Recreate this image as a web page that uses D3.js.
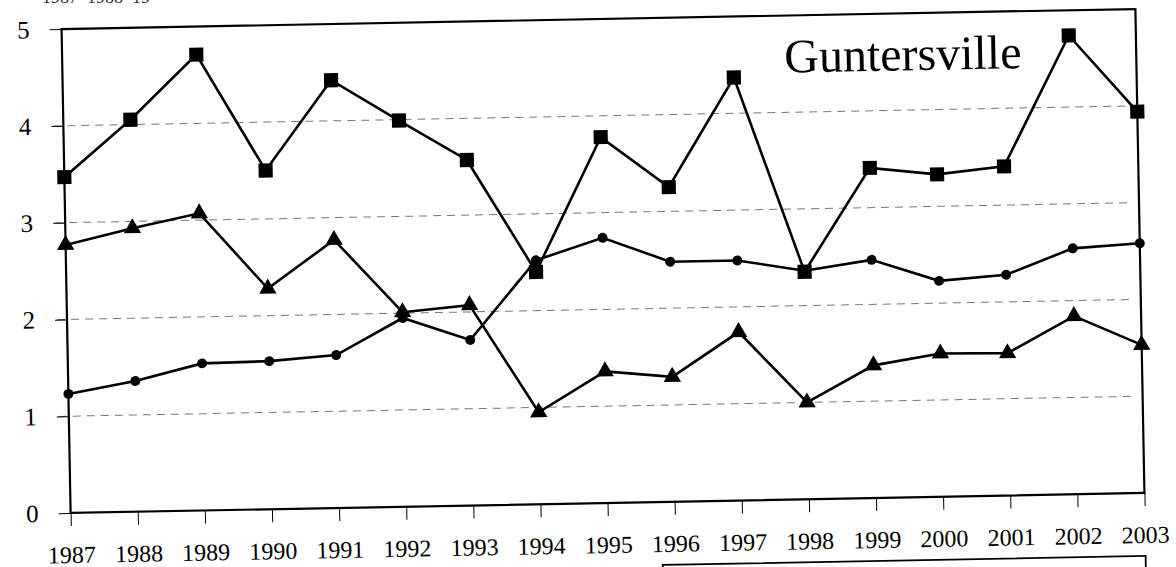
<!DOCTYPE html>
<html><head><meta charset="utf-8">
<script src="https://cdn.jsdelivr.net/npm/d3@7"></script>
<style>body{margin:0;background:#fff;} svg{display:block}</style>
</head><body>
<svg id="chart" width="1176" height="567"></svg>
<script>
const years = [1987,1988,1989,1990,1991,1992,1993,1994,1995,1996,1997,1998,1999,2000,2001,2002,2003];
const squareSeries   = [3.47,4.05,4.71,3.50,4.42,3.99,3.57,2.40,3.78,3.25,4.37,2.35,3.41,3.33,3.40,4.74,3.94];
const circleSeries   = [1.23,1.35,1.52,1.53,1.58,1.95,1.71,2.52,2.74,2.48,2.48,2.36,2.46,2.23,2.28,2.54,2.58];
const triangleSeries = [2.77,2.93,3.07,2.28,2.77,2.01,2.07,0.95,1.36,1.29,1.74,1.00,1.37,1.48,1.47,1.84,1.53];
const yTicks = [0,1,2,3,4,5];
const gridTicks = [1,2,3,4];
const chartTitle = "Guntersville";
const strayTopText = "1987  1988  19";

const W = 1176, H = 567;
const pLeft = 66, pRight = 1140, pTop = 19, pBottom = 503;
const font = "'Liberation Serif','Times New Roman',serif";

const svg = d3.select("#chart");
svg.append("rect").attr("width", W).attr("height", H).attr("fill", "#fff");

// stray fragment of the previous figure's labels at the very top
svg.append("text").attr("x", 42).attr("y", 3).text(strayTopText)
  .attr("font-family", font).attr("font-size", 18).attr("fill", "#333")
  .style("white-space", "pre");

const g = svg.append("g").attr("transform", "rotate(-1.07,603,261)");

const x = d3.scalePoint().domain(years).range([pLeft, pRight]);
const y = d3.scaleLinear().domain([0, 5]).range([pBottom, pTop]);

// gridlines
g.append("g").selectAll("line").data(gridTicks).join("line")
  .attr("x1", pLeft - 10).attr("x2", pRight - 6)
  .attr("y1", d => y(d)).attr("y2", d => y(d))
  .attr("stroke", "#777").attr("stroke-width", 1)
  .attr("stroke-dasharray", "8 6");

// x axis
const xAxis = g.append("g").attr("transform", `translate(0,${pBottom})`)
  .call(d3.axisBottom(x).tickSize(13).tickPadding(20));
xAxis.select(".domain").remove();
xAxis.selectAll(".tick line").attr("stroke", "#000").attr("stroke-width", 1);
xAxis.selectAll(".tick text").attr("font-family", font).attr("font-size", 24).attr("fill", "#000");

// y axis
const yAxis = g.append("g").attr("transform", `translate(${pLeft},0)`)
  .call(d3.axisLeft(y).tickValues(yTicks).tickFormat(d3.format("d")).tickSize(12).tickPadding(20));
yAxis.select(".domain").remove();
yAxis.selectAll(".tick line").attr("stroke", "#000").attr("stroke-width", 1);
yAxis.selectAll(".tick text").attr("font-family", font).attr("font-size", 25).attr("fill", "#000");

// frame
g.append("rect").attr("x", pLeft).attr("y", pTop).attr("width", pRight - pLeft).attr("height", pBottom - pTop)
  .attr("fill", "none").attr("stroke", "#000").attr("stroke-width", 2.2);

// lines
const line = d3.line().x((d, i) => x(years[i])).y(d => y(d));
[squareSeries, circleSeries, triangleSeries].forEach(s => {
  g.append("path").datum(s).attr("d", line)
    .attr("fill", "none").attr("stroke", "#000").attr("stroke-width", 2.6).attr("stroke-linejoin", "miter");
});

// markers
function markers(series, type, size) {
  g.append("g").selectAll("path").data(series).join("path")
    .attr("transform", (d, i) => `translate(${x(years[i])},${y(d)})`)
    .attr("d", d3.symbol().type(type).size(size))
    .attr("fill", "#000");
}
markers(squareSeries, d3.symbolSquare, 200);
markers(circleSeries, d3.symbolCircle, 78);
markers(triangleSeries, d3.symbolTriangle, 130);

// title
g.append("text").attr("x", 788).attr("y", 76).text(chartTitle)
  .attr("font-family", font).attr("font-size", 48).attr("fill", "#000");

// top of a legend box below the chart
g.append("rect").attr("x", 657).attr("y", 566).attr("width", pRight - 657).attr("height", 60)
  .attr("fill", "none").attr("stroke", "#000").attr("stroke-width", 1.8);
</script>
</body></html>
